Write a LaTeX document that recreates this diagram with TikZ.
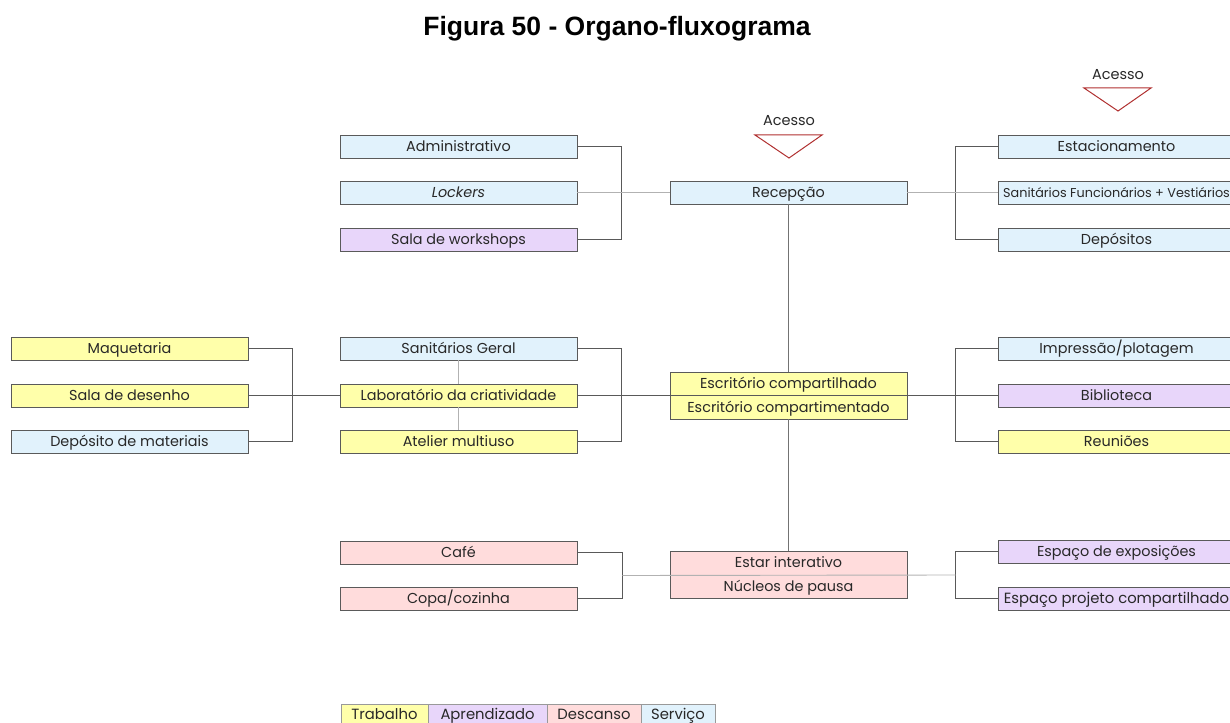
\documentclass[tikz,border=0pt]{standalone}
\usepackage{fontspec}
\setmainfont{Poppins}
\newfontfamily\titlefont{Liberation Sans}
\usetikzlibrary{calc}
\definecolor{cYel}{RGB}{255,255,170}
\definecolor{cPur}{RGB}{232,214,250}
\definecolor{cPnk}{RGB}{255,220,220}
\definecolor{cBlu}{RGB}{225,242,252}
\definecolor{cBord}{RGB}{90,90,90}
\definecolor{cTxt}{RGB}{40,40,40}
\definecolor{cAcc}{RGB}{176,48,48}
\tikzset{
  box/.style={draw=cBord, line width=0.8pt, minimum width=237pt, minimum height=23pt, inner sep=0pt,
    text=cTxt, text height=11pt, text depth=1pt, font=\fontsize{14.4}{16}\selectfont},
  dbox/.style={draw=cBord, line width=0.8pt, minimum width=237pt, minimum height=47pt, inner sep=0pt,
    text=cTxt, align=center, text height=34.5pt, text depth=0pt, font=\fontsize{14.4}{24}\selectfont},
  dk/.style={draw=black!65, line width=0.8pt},
  md/.style={draw=black!55, line width=0.8pt},
  lt/.style={draw=black!30, line width=0.9pt},
  leg/.style={draw=black!40, line width=0.8pt, minimum height=20pt, inner sep=0pt, text=cTxt,
    text height=10pt, text depth=0pt, font=\fontsize{14.8}{16}\selectfont},
  acc/.style={text=cTxt, font=\fontsize{14.5}{16}\selectfont},
  tri/.style={draw=cAcc, line width=1pt}
}
\begin{document}
\begin{tikzpicture}[x=1pt,y=-1pt]
\useasboundingbox (0,0) rectangle (1230,722);
\node[font=\titlefont\bfseries\fontsize{26.5}{30}\selectfont, text=black] (title) at (617,29) {Figura 50 - Organo-fluxograma};

% Acesso markers
\node[acc] (ac1) at (789,121) {Acesso};
\draw[tri] (755,135) -- (822,135) -- (789,158) -- cycle;
\node[acc] (ac2) at (1118,75) {Acesso};
\draw[tri] (1084,88) -- (1151,88) -- (1118,111) -- cycle;

% top-left group
\node[box, fill=cBlu] (adm) at (458.5,146.5) {Administrativo};
\node[box, fill=cBlu] (lock) at (458.5,192.5) {\itshape Lockers};
\node[box, fill=cPur] (ws) at (458.5,239.5) {Sala de workshops};
% center
\node[box, fill=cBlu] (rec) at (788.5,192.5) {Recepção};
% top-right group
\node[box, fill=cBlu] (est) at (1116.5,146.5) {Estacionamento};
\node[box, fill=cBlu, font=\fontsize{12.8}{14}\selectfont] (sfv) at (1116.5,192.5) {Sanitários Funcionários + Vestiários};
\node[box, fill=cBlu] (dep) at (1116.5,239.5) {Depósitos};

% left group
\node[box, fill=cYel] (maq) at (129.5,348.5) {Maquetaria};
\node[box, fill=cYel] (des) at (129.5,395.5) {Sala de desenho};
\node[box, fill=cBlu] (depm) at (129.5,441.5) {Depósito de materiais};
% mid-left group
\node[box, fill=cBlu] (sang) at (458.5,348.5) {Sanitários Geral};
\node[box, fill=cYel] (lab) at (458.5,395.5) {Laboratório da criatividade};
\node[box, fill=cYel] (atel) at (458.5,441.5) {Atelier multiuso};
% central office
\node[dbox, fill=cYel] (esc) at (788.5,395.5) {Escritório compartilhado\\Escritório compartimentado};
% mid-right group
\node[box, fill=cBlu] (imp) at (1116.5,348.5) {Impressão/plotagem};
\node[box, fill=cPur] (bib) at (1116.5,395.5) {Biblioteca};
\node[box, fill=cYel] (reu) at (1116.5,441.5) {Reuniões};

% bottom
\node[box, fill=cPnk] (cafe) at (458.5,552.5) {Café};
\node[box, fill=cPnk] (copa) at (458.5,598.5) {Copa/cozinha};
\node[dbox, fill=cPnk] (estar) at (788.5,574.5) {Estar interativo\\Núcleos de pausa};
\node[box, fill=cPur] (exp) at (1116.5,551.5) {Espaço de exposições};
\node[box, fill=cPur, font=\fontsize{14.8}{16}\selectfont] (epc) at (1116.5,598.5) {Espaço projeto compartilhado};

% legend
\node[leg, fill=cYel, minimum width=87pt] (l1) at (384.5,714) {Trabalho};
\node[leg, fill=cPur, minimum width=119pt] (l2) at (487.5,714) {Aprendizado};
\node[leg, fill=cPnk, minimum width=94pt] (l3) at (594,714) {Descanso};
\node[leg, fill=cBlu, minimum width=74pt] (l4) at (678,714) {Serviço};

% connectors
\draw[dk] (adm.east) -- ++(44,0) |- (ws.east);
\draw[lt] (lock.east) -- (rec.west);
\draw[dk] (est.west) -- ++(-42,0) |- (dep.west);
\draw[lt] (rec.east) -- (sfv.west);
\draw[md] (rec.south) -- (esc.north);
\draw[md] (esc.south) -- (estar.north);

\draw[dk] (maq.east) -- ++(44,0) |- (depm.east);
\draw[dk] (des.east) -- (lab.west);
\draw[lt] (sang.south) -- (lab.north);
\draw[lt] (lab.south) -- (atel.north);
\draw[dk] (sang.east) -- ++(44,0) |- (atel.east);
\draw[dk] (lab.east) -- (bib.west);
\draw[dk] (imp.west) -- ++(-42,0) |- (reu.west);

\coordinate (bl) at ($(cafe.east)!0.5!(copa.east)+(45,0)$);
\coordinate (br) at ($(exp.west)!0.5!(epc.west)+(-42,0)$);
\draw[dk] (cafe.east) -- ++(45,0) |- (copa.east);
\draw[dk] (exp.west) -- ++(-42,0) |- (epc.west);
\draw[lt] (bl) -- (br);
\end{tikzpicture}
\end{document}
